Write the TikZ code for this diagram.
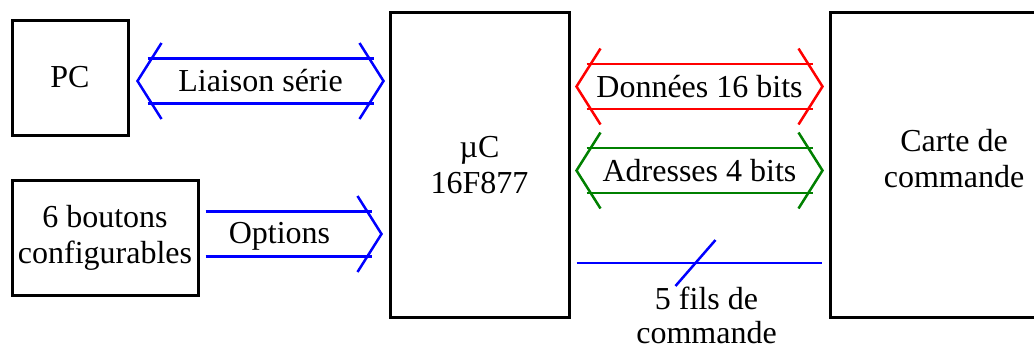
\documentclass[tikz,border=0pt]{standalone}
\usepackage{fontspec}
\setmainfont{Liberation Serif}
\usetikzlibrary{calc}

\definecolor{darkgreen}{RGB}{0,128,0}
\tikzset{
  box/.style={draw,line width=1.5pt,align=center,inner sep=0pt},
  bus/.style={line width=1.25pt},
}
% double-ended bus arrow between two tips
\newcommand{\dbus}[3]{%
  \draw[bus,#1] ($(#2)+(24,-38)$) -- (#2) -- ($(#2)+(24,38)$);
  \draw[bus,#1] ($(#3)+(-24,-38)$) -- (#3) -- ($(#3)+(-24,38)$);
  \draw[bus,#1] ($(#2)+(10,-22.5)$) -- ($(#3)+(-10,-22.5)$);
  \draw[bus,#1] ($(#2)+(10,22.5)$) -- ($(#3)+(-10,22.5)$);
}

\begin{document}
\begin{tikzpicture}[x=0.5pt,y=-0.5pt,font=\fontsize{16}{18}\selectfont]
\clip (0,0) rectangle (1034,349);
\node[box,minimum width=58pt,minimum height=57.5pt] (pc) at (70,77.5) {PC};
\node[box,minimum width=93pt,minimum height=57.5pt] (btn) at (105,237.5) {6 boutons\\configurables};
\node[box,minimum width=89.5pt,minimum height=152.5pt,text depth=0pt] (uc) at (479.5,164.5) {µC\\16F877};
\node[box,minimum width=124pt,minimum height=152.5pt,text depth=6pt] (carte) at (954,164.5) {Carte de\\commande};

% liaison serie
\coordinate (ls1) at ($(pc.east)+(8,3.5)$);
\coordinate (ls2) at ($(uc.west |- ls1)+(-5,0)$);
\dbus{blue}{ls1}{ls2}
\path (ls1) -- (ls2) node[midway] (lslabel) {Liaison série};

% options
\coordinate (op1) at ($(btn.east)+(6,-3.5)$);
\coordinate (op2) at ($(uc.west |- op1)+(-7,0)$);
\draw[bus,blue] ($(op2)+(-24,-38)$) -- (op2) -- ($(op2)+(-24,38)$);
\draw[bus,blue] ($(op1)+(0,-22.5)$) -- ($(op2)+(-10,-22.5)$);
\draw[bus,blue] ($(op1)+(0,22.5)$) -- ($(op2)+(-10,22.5)$);
\node (oplabel) at ($(op1)+(74,2)$) {Options};

% donnees et adresses
\coordinate (d1) at ($(uc.north east)+(6,76)$);
\coordinate (d2) at ($(carte.west |- d1)+(-6,0)$);
\dbus{red}{d1}{d2}
\path (d1) -- (d2) node[midway] (dlabel) {Données 16 bits};
\coordinate (a1) at ($(d1)+(0,84)$);
\coordinate (a2) at ($(d2)+(0,84)$);
\dbus{darkgreen}{a1}{a2}
\path (a1) -- (a2) node[midway] (alabel) {Adresses 4 bits};

% fils de commande
\coordinate (f1) at ($(uc.east)+(6,98.5)$);
\coordinate (f2) at ($(carte.west |- f1)+(-7,0)$);
\coordinate (fm) at ($(f1)!0.5!(f2)+(-3.5,0)$);
\draw[bus,blue] (f1) -- (f2);
\draw[bus,blue] ($(fm)+(-20,23)$) -- ($(fm)+(20,-23)$);
\node[anchor=north,align=center,inner sep=0pt,font=\fontsize{16}{17}\selectfont] (flabel) at ($(fm)+(11,24)$) {5 fils de\\commande};
\end{tikzpicture}
\end{document}
